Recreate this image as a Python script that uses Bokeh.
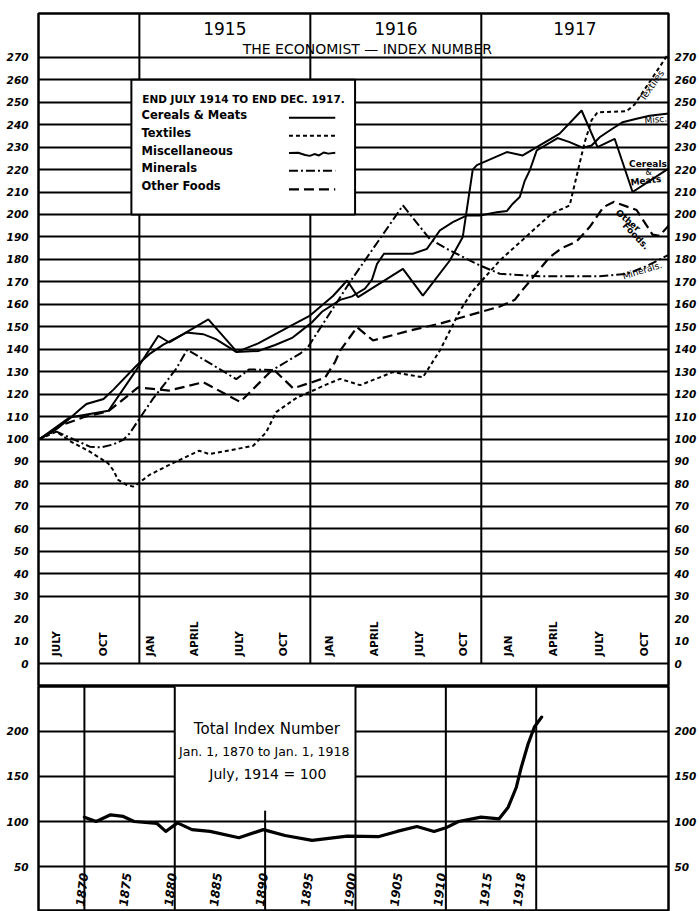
import math
from bokeh.plotting import figure
from bokeh.models import FixedTicker, LinearAxis, Range1d, Label
from bokeh.layouts import column
from bokeh.embed import file_html
from bokeh.resources import INLINE
from bokeh.core.properties import value

# ---------------- DATA (x = months after 1 Jan 1915; y = index, July 1914 = 100) ----------------
cereals_m = [-7.0, -4.91, -2.17, -0.21, 1.33, 2.10, 4.84, 6.85, 8.34, 10.72, 11.98, 13.59, 14.58, 15.35,
             18.50, 19.90, 21.79, 22.70, 23.40, 23.69, 25.79, 26.91, 29.50, 31.04, 32.16, 33.36, 34.62, 37.14]
cereals_v = [100, 109.6, 112.6, 130.8, 146, 143, 153.3, 138.8, 142.6, 150.7, 155, 163.7, 170.6, 163.2,
             175.8, 163.9, 179.5, 190, 220, 222, 227.8, 226.3, 236, 246.3, 230, 233.7, 210, 220.4]

misc_m = [-7.0, -5.82, -4.91, -4.20, -3.71, -2.52, -1.82, -0.21, 0.70, 1.68, 2.59, 3.29, 4.48, 5.40,
          6.80, 8.34, 9.53, 10.72, 11.42, 12.12, 12.82, 14.09, 14.93, 15.84, 16.33, 16.68, 17.17, 19.20,
          20.18, 20.60, 21.09, 22.00, 22.99, 23.90, 25.09, 25.79, 26.21, 26.70, 27.05, 27.40, 27.89, 29.36,
          30.20, 31.11, 31.74, 32.31, 33.01, 33.92, 34.90, 35.81, 37.14]
misc_v = [100, 104.4, 109, 113, 115.6, 117.8, 122, 132.6, 137.8, 142, 145, 147.4, 146.7, 144.4,
          138.8, 139.2, 141.9, 145, 148.5, 152, 156.7, 162, 163.5, 167, 171, 178, 182.5, 182.5,
          184.7, 188.4, 192.9, 196.6, 199.6, 199.6, 201, 201.5, 204.8, 207.8, 215, 219.6, 228.5, 234,
          232.2, 229.7, 230.7, 234.4, 237.4, 241.1, 242.6, 244, 245]

textiles_m = [-7.0, -5.82, -4.88, -3.48, -2.19, -1.84, -1.49, -0.91, -0.44, -0.21, 0.70, 2.10, 4.20, 4.91,
              6.38, 7.99, 8.90, 9.60, 11.07, 11.98, 13.03, 14.09, 15.49, 17.80, 19.90, 21.09, 22.49, 23.40,
              25.30, 27.89, 28.94, 30.20, 31.25, 31.74, 32.16, 34.20, 34.76, 35.81, 37.07]
textiles_v = [100, 103.3, 99.1, 94.4, 89.2, 86.2, 81.8, 79.6, 78.8, 79.6, 84, 88.5, 94.8, 93.3,
              95, 97, 103, 112, 118.5, 121, 124, 126.8, 124, 129.8, 127.5, 139.4, 157, 166,
              179.5, 194.4, 200.4, 204, 232, 242, 245.5, 246, 249, 259, 271]

minerals_m = [-7.0, -6.29, -5.82, -4.88, -3.48, -2.66, -1.84, -1.14, -0.68, 0.02, 0.96, 1.89, 2.59, 3.36,
              6.80, 7.71, 9.32, 11.28, 11.84, 14.79, 18.50, 20.39, 21.79, 23.90, 25.30, 28.10, 32.31,
              34.20, 35.60, 37.14]
minerals_v = [100, 102.5, 103.3, 100.6, 96.6, 96.3, 97.6, 99.6, 102.5, 109.2, 118, 125.5, 131.4, 139.8,
              126.7, 131, 130.7, 138, 141, 170, 204, 189, 184, 177.3, 173.6, 172.5, 172.5,
              173.5, 177, 182]

other_m = [-7.0, -5.54, -3.78, -2.17, -0.09, 2.10, 4.48, 7.08, 9.39, 10.79, 12.12, 13.03, 13.74, 14.09,
           15.28, 16.40, 18.99, 21.09, 25.30, 26.35, 26.84, 27.89, 28.80, 29.64, 30.69, 31.60, 32.58,
           33.29, 34.90, 36.02, 36.51, 37.14]
other_v = [100, 106, 110, 112.4, 123, 121.6, 125.3, 116.5, 131.2, 122.6, 125.3, 127.3, 134.4, 139.4,
           149.8, 143.9, 148.3, 151.4, 159, 162, 166, 174, 181, 185, 188, 194.4, 203.3,
           205.6, 202, 191, 190.5, 195]

month_labels = ["JULY", "OCT", "JAN", "APRIL", "JULY", "OCT", "JAN", "APRIL", "JULY", "OCT",
                "JAN", "APRIL", "JULY", "OCT"]
month_pos = [-5.84, -2.56, 0.73, 3.85, 6.97, 10.09, 13.32, 16.44, 19.62, 22.75, 25.86, 29.0, 32.28, 35.40]

year_labels = ["1915", "1916", "1917"]
year_start = [0, 12, 24]
year_end = [12, 24, 37.14]

main_ticks = list(range(0, 271, 10))
main_grid = [0] + list(range(30, 271, 10))

legend_names = ["Cereals & Meats", "Textiles", "Miscellaneous", "Minerals", "Other Foods"]

# Total index number 1870-1918 (July 1914 = 100)
total_year = [1870.0, 1871.3, 1872.9, 1874.3, 1875.5, 1878.0, 1879.0, 1880.3, 1881.9, 1883.9, 1887.1,
              1889.8, 1892.2, 1895.2, 1899.1, 1902.6, 1904.6, 1906.8, 1908.7, 1910.0, 1911.4, 1913.9,
              1915.9, 1916.9, 1917.8, 1918.35, 1919.1, 1919.8, 1920.6]
total_v = [104.8, 100, 107.4, 105.6, 100, 98, 89, 98.5, 91, 89, 82,
           91, 84.5, 79, 83.7, 83.3, 89, 94.4, 89, 93, 100, 104.8,
           103, 115.9, 138, 160.2, 186, 204.8, 215.8]
bottom_year_labels = ["1870", "1875", "1880", "1885", "1890", "1895", "1900", "1905", "1910", "1915", "1918"]
bottom_year_pos = [1869.7, 1874.5, 1879.5, 1884.5, 1889.6, 1894.6, 1899.4, 1904.5, 1909.3, 1914.4, 1918.1]
bottom_vlines = [1870, 1880, 1900, 1910, 1920]
bottom_ticks = [50, 100, 150, 200]

# ---------------- STYLE ----------------
FONT = "DejaVu Sans"
NUMFONT = "DejaVu Sans"
LW = 2


def style_axis(ax, standoff):
    ax.axis_line_color = None
    ax.major_tick_line_color = None
    ax.minor_tick_line_color = None
    ax.major_tick_in = 0
    ax.major_tick_out = 0
    ax.minor_tick_in = 0
    ax.minor_tick_out = 0
    ax.major_label_text_font = NUMFONT
    ax.major_label_text_font_style = "bold italic"
    ax.major_label_text_font_size = "10.5px"
    ax.major_label_text_color = "black"
    ax.major_label_standoff = standoff


def lab(fig, x, y, text, size, style="normal", angle=0.0, align="center", baseline="middle", font=FONT):
    fig.add_layout(Label(x=x, y=y, text=text, text_font=font, text_font_size=size,
                         text_font_style=style, angle=angle, text_align=align,
                         text_baseline=baseline, text_color="black"))


# ---------------- MAIN CHART ----------------
YTOP = 289.5
p = figure(width=699, height=686, x_range=Range1d(-7.08, 37.14), y_range=Range1d(-10.2, YTOP),
           output_backend="svg", toolbar_location=None,
           min_border_left=38, min_border_right=30, min_border_top=13, min_border_bottom=0)
p.background_fill_color = "white"
p.border_fill_color = "white"
p.outline_line_color = "black"
p.outline_line_width = 2.5
p.xaxis.visible = False
p.xgrid.visible = False
p.ygrid.ticker = FixedTicker(ticks=main_grid)
p.ygrid.grid_line_color = "black"
p.ygrid.grid_line_width = LW

p.yaxis.ticker = FixedTicker(ticks=main_ticks)
style_axis(p.yaxis[0], 10)
rax = LinearAxis(ticker=FixedTicker(ticks=main_ticks))
style_axis(rax, 6)
p.add_layout(rax, "right")

# year separators
p.segment(x0=year_start, y0=[0] * 3, x1=year_start, y1=[YTOP] * 3, line_color="black", line_width=LW)

# legend box (covers grid)
LX0, LX1, LB, LT = -0.56, 15.14, 200, 260
p.quad(left=[LX0], right=[LX1], bottom=[LB], top=[LT], fill_color="white", line_color="black", line_width=LW)

# series
p.line(cereals_m, cereals_v, line_color="black", line_width=2)
p.line(misc_m, misc_v, line_color="black", line_width=2, line_join="miter")
p.line(textiles_m, textiles_v, line_color="black", line_width=2, line_dash="4 3")
p.line(minerals_m, minerals_v, line_color="black", line_width=2, line_dash="9 3 2 3")
p.line(other_m, other_v, line_color="black", line_width=2.2, line_dash="10 5")

# header
for s, e, t in zip(year_start, year_end, year_labels):
    lab(p, (s + e) / 2, 282.6, t, "17px")
lab(p, 16.0, 273.8, "THE ECONOMIST \u2014 INDEX NUMBER", "14px")

# legend contents
lab(p, 0.2, 251.6, "END JULY 1914 TO END DEC. 1917.", "10.5px", style="bold", align="left")
rows = [244.1, 236.1, 228.1, 220.5, 212.2]
for name, yy in zip(legend_names, rows):
    lab(p, 0.15, yy + 0.3, name, "11.5px", style="bold", align="left")
sx0, sx1 = 10.5, 13.75
p.segment(x0=[sx0], y0=[rows[0] - 1], x1=[sx1], y1=[rows[0] - 1], line_color="black", line_width=2)
p.segment(x0=[sx0], y0=[rows[1] - 1], x1=[sx1], y1=[rows[1] - 1], line_color="black", line_width=2, line_dash="4 3")
wx = [sx0 + f * (sx1 - sx0) for f in (0, 0.2, 0.35, 0.45, 0.55, 0.65, 0.75, 0.85, 1.0)]
wy = [rows[2] - 1 + d for d in (0.3, 0.4, -0.6, -1.0, -0.2, -0.8, 0.5, 0.0, 0.4)]
p.line(wx, wy, line_color="black", line_width=2)
p.segment(x0=[sx0], y0=[rows[3] - 1], x1=[sx1], y1=[rows[3] - 1], line_color="black", line_width=2, line_dash="9 3 2 3")
p.segment(x0=[sx0], y0=[rows[4] - 1], x1=[sx1], y1=[rows[4] - 1], line_color="black", line_width=2.2, line_dash="10 5")

# month labels
p.text(x=month_pos, y=[3.3] * len(month_pos), text=month_labels, angle=math.pi / 2,
       text_align="left", text_baseline="middle", text_font=value(FONT),
       text_font_size="10.5px", text_font_style="bold", text_color="black")

# line annotations at right
lab(p, 35.95, 257.5, "Textiles", "9.5px", angle=0.95)
lab(p, 36.25, 242.3, "Misc.", "9px", angle=0.08)
lab(p, 35.7, 222.6, "Cereals", "9px", style="bold")
lab(p, 35.75, 218.8, "&", "8px")
lab(p, 35.55, 215.0, "Meats", "9px", style="bold", angle=0.12)
lab(p, 34.3, 197.3, "Other", "9px", style="bold", angle=-0.7)
lab(p, 34.85, 190.4, "Foods.", "9px", style="bold", angle=-0.8)
lab(p, 35.3, 175.0, "Minerals.", "9px", angle=0.3)

# ---------------- BOTTOM CHART ----------------
BTOP = 249.7
BBOT = 0.2
q = figure(width=699, height=225, x_range=Range1d(1864.92, 1934.64), y_range=Range1d(BBOT, BTOP),
           output_backend="svg", toolbar_location=None,
           min_border_left=38, min_border_right=30, min_border_top=0, min_border_bottom=0)
q.background_fill_color = "white"
q.border_fill_color = "white"
q.outline_line_color = "black"
q.outline_line_width = 2.5
q.xaxis.visible = False
q.xgrid.visible = False
q.ygrid.ticker = FixedTicker(ticks=bottom_ticks)
q.ygrid.grid_line_color = "black"
q.ygrid.grid_line_width = LW
q.yaxis.ticker = FixedTicker(ticks=bottom_ticks)
style_axis(q.yaxis[0], 10)
rax2 = LinearAxis(ticker=FixedTicker(ticks=bottom_ticks))
style_axis(rax2, 6)
q.add_layout(rax2, "right")

# text panel (blank area over the grid)
q.quad(left=[1880], right=[1900], bottom=[112], top=[BTOP], fill_color="white", line_color=None)
q.segment(x0=bottom_vlines, y0=[BBOT] * len(bottom_vlines), x1=bottom_vlines, y1=[BTOP] * len(bottom_vlines),
          line_color="black", line_width=LW)
q.segment(x0=[1890], y0=[BBOT], x1=[1890], y1=[112], line_color="black", line_width=LW)

q.line(total_year, total_v, line_color="black", line_width=3.2, line_join="round", line_cap="round")

lab(q, 1890.2, 202.8, "Total Index Number", "15px")
lab(q, 1889.9, 177.9, "Jan. 1, 1870 to Jan. 1, 1918", "12.5px")
lab(q, 1890.3, 152.9, "July, 1914 = 100", "14px")

q.text(x=bottom_year_pos, y=[24.5] * len(bottom_year_pos), text=bottom_year_labels, angle=1.45,
       text_align="center", text_baseline="middle", text_font=value(NUMFONT),
       text_font_size="12px", text_font_style="bold italic", text_color="black")

layout = column(p, q, spacing=0)
open("out.html", "w").write(file_html(layout, INLINE))
